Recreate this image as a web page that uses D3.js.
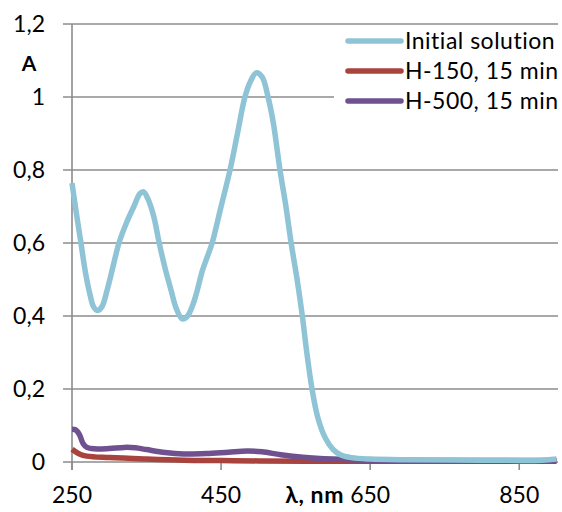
<!DOCTYPE html>
<html>
<head>
<meta charset="utf-8">
<script src="https://cdn.jsdelivr.net/npm/d3@7"></script>
<style>
  body { margin: 0; background: #fff; }
  text { font-family: Lato, "Open Sans", sans-serif; fill: #000; }
</style>
</head>
<body>
<div id="container"></div>
<script>
// spectra (wavelength nm, absorbance)
const initialWl = [250, 256, 262, 268, 274, 279, 284, 290, 297, 305, 313, 323, 333, 341, 346, 352, 360, 367, 375, 383, 390, 398, 405, 412, 418, 425, 432, 438, 450, 462, 472, 482, 490, 497, 505, 513, 520, 529, 537, 544, 552, 559, 565, 572, 580, 590, 600, 610, 625, 650, 700, 800, 880, 900];
const initialA = [0.764, 0.68, 0.60, 0.52, 0.46, 0.425, 0.415, 0.425, 0.47, 0.535, 0.60, 0.655, 0.70, 0.735, 0.74, 0.72, 0.67, 0.60, 0.53, 0.47, 0.42, 0.392, 0.40, 0.43, 0.47, 0.525, 0.565, 0.60, 0.70, 0.80, 0.90, 1.00, 1.045, 1.066, 1.055, 1.00, 0.93, 0.80, 0.70, 0.60, 0.50, 0.40, 0.30, 0.20, 0.12, 0.065, 0.035, 0.02, 0.012, 0.008, 0.006, 0.005, 0.005, 0.008];

const h150Wl = [250, 260, 270, 300, 350, 400, 450, 500, 600, 700, 900];
const h150A = [0.035, 0.022, 0.016, 0.012, 0.008, 0.005, 0.004, 0.003, 0.002, 0.002, 0.002];

const h500Wl = [250, 255, 260, 265, 270, 280, 300, 320, 335, 350, 375, 400, 430, 460, 485, 505, 530, 560, 600, 650, 750, 900];
const h500A = [0.09, 0.088, 0.075, 0.05, 0.04, 0.036, 0.037, 0.04, 0.039, 0.034, 0.026, 0.022, 0.023, 0.027, 0.03, 0.028, 0.02, 0.013, 0.008, 0.005, 0.004, 0.004];

const seriesNames = ["Initial solution", "H-150, 15 min", "H-500, 15 min"];
const seriesColors = ["#8fc3d6", "#a9433e", "#6f5190"];

const xTicks = [250, 450, 650, 850];
const yTicks = [0, 0.2, 0.4, 0.6, 0.8, 1, 1.2];

const width = 562, height = 512;
const margin = { left: 72, right: 4, top: 24, bottom: 50 };

const svg = d3.select('#container').append('svg')
    .attr('width', width)
    .attr('height', height);

const x = d3.scaleLinear().domain([250, 902]).range([margin.left, width - margin.right]);
const y = d3.scaleLinear().domain([0, 1.2]).range([height - margin.bottom, margin.top]);

// gridlines
svg.append('g')
   .selectAll('line')
   .data(yTicks)
   .enter()
   .append('line')
   .attr('x1', margin.left - 9)
   .attr('x2', width - margin.right)
   .attr('y1', d => y(d))
   .attr('y2', d => y(d))
   .attr('stroke', '#8c8c8c')
   .attr('stroke-width', 1.6);

// y axis line + x ticks
svg.append('line')
   .attr('x1', margin.left).attr('x2', margin.left)
   .attr('y1', y(1.2)).attr('y2', y(0) + 8)
   .attr('stroke', '#8c8c8c').attr('stroke-width', 1.6);

svg.append('g')
   .selectAll('line')
   .data(xTicks)
   .enter()
   .append('line')
   .attr('x1', d => x(d)).attr('x2', d => x(d))
   .attr('y1', y(0)).attr('y2', y(0) + 8)
   .attr('stroke', '#8c8c8c').attr('stroke-width', 1.6);

svg.append('g')
   .selectAll('text')
   .data(yTicks)
   .enter()
   .append('text')
   .attr('x', 45)
   .attr('y', d => y(d))
   .attr('dy', '0.36em')
   .attr('text-anchor', 'end')
   .style('font-size', '23px')
   .text(d => String(d).replace('.', ','));

svg.append('g')
   .selectAll('text')
   .data(xTicks)
   .enter()
   .append('text')
   .attr('x', d => x(d))
   .attr('y', 503)
   .attr('text-anchor', 'middle')
   .style('font-size', '23px')
   .text(d => d);

svg.append('text')
   .attr('x', 29).attr('y', 63).attr('dy', '0.36em')
   .attr('text-anchor', 'middle')
   .style('font-size', '21px').style('font-weight', 'bold')
   .text('A');

svg.append('text')
   .attr('x', 344).attr('y', 503)
   .attr('text-anchor', 'end')
   .style('font-size', '23px').style('font-weight', 'bold')
   .style('letter-spacing', '0.6px')
   .text('λ, nm');

// curves
const line = d3.line()
    .x(d => x(d[0]))
    .y(d => y(d[1]))
    .curve(d3.curveCatmullRom.alpha(0.5));

const series = [
    d3.zip(initialWl, initialA),
    d3.zip(h150Wl, h150A),
    d3.zip(h500Wl, h500A)
];

// draw red, purple, then blue on top
[1, 2, 0].forEach(i => {
    svg.append('path')
       .datum(series[i])
       .attr('d', line)
       .attr('fill', 'none')
       .attr('stroke', seriesColors[i])
       .attr('stroke-width', 5.5)
       .attr('stroke-linejoin', 'round');
});

// legend
const legend = svg.append('g');
legend.append('rect')
      .attr('x', 334).attr('y', 27)
      .attr('width', width - 334 - margin.right).attr('height', 88)
      .attr('fill', '#fff');

const items = legend.selectAll('g')
    .data(seriesNames)
    .enter()
    .append('g')
    .attr('transform', (d, i) => `translate(0, ${41 + i * 30})`);

items.append('line')
     .attr('x1', 348).attr('x2', 401)
     .attr('stroke', (d, i) => seriesColors[i])
     .attr('stroke-width', 5.5)
     .attr('stroke-linecap', 'round');

items.append('text')
     .attr('x', 405)
     .attr('dy', '0.36em')
     .style('font-size', '23px')
     .style('letter-spacing', '0.5px')
     .text(d => d);
</script>
</body>
</html>
